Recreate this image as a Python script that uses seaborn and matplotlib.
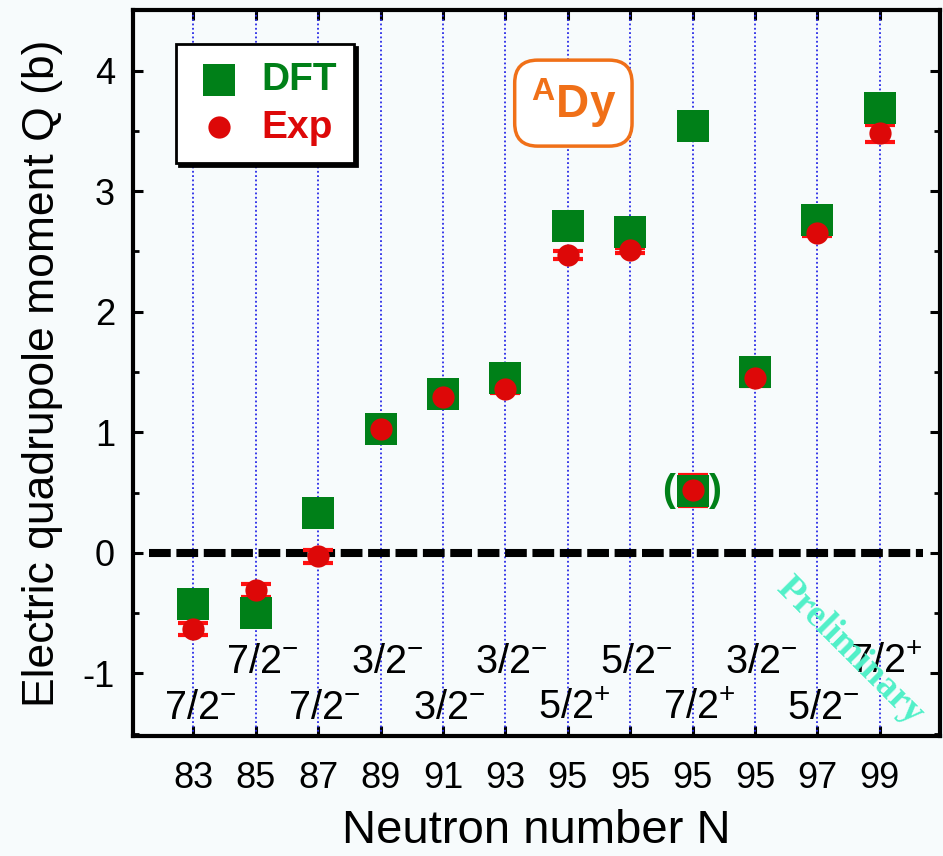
import numpy as np
import pandas as pd
import matplotlib
matplotlib.use("Agg")
import matplotlib.pyplot as plt
from matplotlib.ticker import MultipleLocator
import seaborn as sns

# ---------------- data ----------------
neutron_labels = ["83", "85", "87", "89", "91", "93", "95", "95", "95", "95", "97", "99"]
dft_values = [-0.42, -0.50, 0.33, 1.03, 1.32, 1.45, 2.71, 2.66, 3.54, 1.50, 2.76, 3.69]
dft_bracket_index = [8]
dft_bracket_values = [0.51]
exp_values = [-0.63, -0.31, -0.03, 1.03, 1.29, 1.36, 2.47, 2.51, 0.52, 1.45, 2.65, 3.48]
exp_errors = [0.05, 0.055, 0.05, 0.03, 0.04, 0.03, 0.03, 0.02, 0.13, 0.07, 0.02, 0.07]
spin_labels = ["7/2$^{-}$", "7/2$^{-}$", "7/2$^{-}$", "3/2$^{-}$", "3/2$^{-}$", "3/2$^{-}$",
               "5/2$^{+}$", "5/2$^{-}$", "7/2$^{+}$", "3/2$^{-}$", "5/2$^{-}$", "7/2$^{+}$"]

BG = "#f7fbfc"
GREEN = "#008018"
RED = "#dd0808"
CAPRED = "#ff1010"

sns.set_theme(style="ticks")
plt.rcParams["font.family"] = ["Liberation Sans", "DejaVu Sans"]
plt.rcParams["mathtext.fontset"] = "custom"
plt.rcParams["mathtext.rm"] = "Liberation Sans"
plt.rcParams["mathtext.bf"] = "Liberation Sans:bold"
plt.rcParams["mathtext.it"] = "Liberation Sans:italic"
plt.rcParams["axes.unicode_minus"] = False
for k in ["text.color", "axes.labelcolor", "xtick.color", "ytick.color", "axes.edgecolor"]:
    plt.rcParams[k] = "black"

pos = np.arange(len(neutron_labels))
df = pd.DataFrame({"pos": pos, "dft": dft_values, "exp": exp_values, "err": exp_errors})

fig = plt.figure(figsize=(9.43, 8.56), dpi=100, facecolor=BG)
ax = fig.add_axes([0.141, 0.140, 0.856, 0.848])
ax.set_facecolor(BG)

# vertical dotted guide lines
for p in pos:
    ax.axvline(p, color="#2a2ae8", ls=(0, (1, 1.4)), lw=1.3, zorder=1)

# zero dashed line
ax.axhline(0, xmin=0.02, xmax=0.979, color="black", lw=5.8, ls=(0, (2.7, 0.7)), zorder=1.5)

# error bars
ax.errorbar(df["pos"], df["exp"], yerr=df["err"], fmt="none", ecolor=CAPRED,
            elinewidth=2, capsize=11, capthick=3, zorder=2)

sns.scatterplot(data=df, x="pos", y="dft", marker="s", s=22.5 ** 2, color=GREEN,
                linewidth=0, ax=ax, zorder=3, label="DFT")
sns.scatterplot(x=dft_bracket_index, y=dft_bracket_values, marker="s", s=22.5 ** 2, color=GREEN,
                linewidth=0, ax=ax, zorder=3, legend=False)
sns.scatterplot(data=df, x="pos", y="exp", marker="o", s=16 ** 2, color=RED,
                linewidth=0, ax=ax, zorder=4, label="Exp")

# brackets around the tentative point
for dx, ch in [(-0.385, "("), (0.37, ")")]:
    ax.text(dft_bracket_index[0] + dx, dft_bracket_values[0], ch, color=GREEN,
            fontsize=28, fontweight="bold", ha="center", va="center", zorder=5)

# spin labels
for i, lab in enumerate(spin_labels):
    y = -1.378 if i % 2 == 0 else -0.993
    ax.text(pos[i] + 0.1, y, lab, fontsize=28.5, ha="center", va="baseline", zorder=5)

# ADy label
ax.text(6.09, 3.73, r"$^{\mathbf{A}}$Dy", color="#f07018", fontsize=33, fontweight="bold",
        ha="center", va="center", zorder=6,
        bbox=dict(boxstyle="round,pad=0.35,rounding_size=0.5", fc="white", ec="#f07018", lw=2.5))

# Preliminary watermark
ax.text(10.52, -0.81, "Preliminary", color="#50f0c8", fontsize=27, fontweight="bold",
        family="Liberation Serif", rotation=-45, ha="center", va="center",
        rotation_mode="anchor", zorder=6)

ax.set_xlim(-0.97, 11.97)
ax.set_ylim(-1.52, 4.5)
ax.set_xticks(pos)
ax.set_xticklabels(neutron_labels)
ax.set_yticks([-1, 0, 1, 2, 3, 4])
ax.set_yticklabels(["-1", "0", "1", "2", "3", "4"])
ax.yaxis.set_minor_locator(MultipleLocator(0.5))
ax.tick_params(axis="both", which="major", direction="in", top=True, right=True,
               length=7.5, width=2.2, labelsize=26, colors="black")
ax.tick_params(axis="x", pad=18)
ax.tick_params(axis="y", pad=13)
ax.tick_params(axis="y", which="minor", direction="in", right=True, length=4, width=2)
for sp in ax.spines.values():
    sp.set_linewidth(3)
    sp.set_color("black")

ax.set_xlabel("Neutron number N", fontsize=34, labelpad=9)
ax.set_ylabel("Electric quadrupole moment Q (b)", fontsize=32, labelpad=14)

leg = ax.legend(loc="upper left", bbox_to_anchor=(0.053, 0.953), borderaxespad=0,
                frameon=True, fancybox=False,
                edgecolor="black", facecolor="white", framealpha=1,
                prop={"size": 28, "weight": "bold"}, labelcolor=[GREEN, RED],
                handletextpad=0.45, borderpad=0.45, labelspacing=0.3, handlelength=1.3,
                shadow={"color": "black", "alpha": 1})
leg.get_frame().set_linewidth(2)

fig.savefig("out.png", dpi=100, facecolor=BG)
